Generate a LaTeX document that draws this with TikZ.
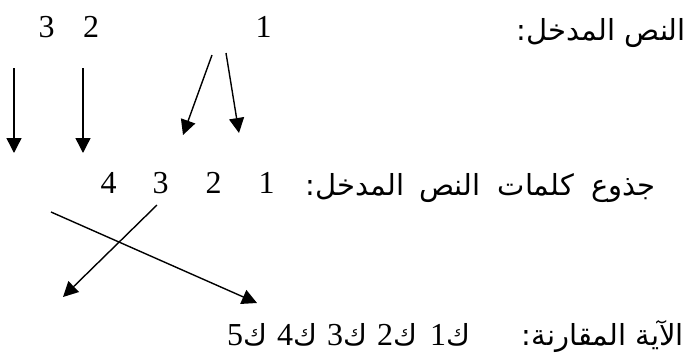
\documentclass[tikz,border=0pt]{standalone}
\usepackage{fontspec}
\setmainfont{Liberation Serif}
\newfontfamily\arabicfont[Script=Arabic]{DejaVu Sans}
\TeXXeTstate=1
\usetikzlibrary{arrows.meta}
\begin{document}
\begin{tikzpicture}[x=1pt,y=-1pt,
  num/.style={font=\fontsize{32}{32}\selectfont, inner sep=0pt, anchor=base},
  lbl/.style={font=\arabicfont\fontsize{29}{32}\selectfont, inner sep=0pt, anchor=base east},
  arr/.style={line width=1.4pt, -{Triangle[length=15pt,width=15pt]}}]
\useasboundingbox (0,0) rectangle (690,359);
% top row
\node[num] (t3) at (46.5,37) {3};
\node[num] (t2) at (91,37) {2};
\node[num] (t1) at (263.5,37) {1};
\node[lbl] (tl) at (686,40) {\beginR النص المدخل{}:\endR};
% middle row
\node[num] (m4) at (108.5,193) {4};
\node[num] (m3) at (160.5,193) {3};
\node[num] (m2) at (213.5,193) {2};
\node[num] (m1) at (266.5,193) {1};
\node[lbl] (ml) at (656,195) {\beginR جذوع\hspace{8pt} كلمات\hspace{8pt} النص\hspace{6pt} المدخل{}:\endR};
% bottom row
\node[num, anchor=base west] (k5) at (227,345) {5{\arabicfont\fontsize{29}{32}\selectfont ك}};
\node[num, anchor=base west] (k4) at (277,345) {4{\arabicfont\fontsize{29}{32}\selectfont ك}};
\node[num, anchor=base west] (k3) at (327,345) {3{\arabicfont\fontsize{29}{32}\selectfont ك}};
\node[num, anchor=base west] (k2) at (377,345) {2{\arabicfont\fontsize{29}{32}\selectfont ك}};
\node[num, anchor=base west] (k1) at (430,345) {1{\arabicfont\fontsize{29}{32}\selectfont ك}};
\node[lbl] (bl) at (684,345) {\beginR الآية المقارنة{}:\endR};
% arrow end points
\coordinate (a1s) at (14,68);  \coordinate (a1e) at (14,153);
\coordinate (a2s) at (83,68);  \coordinate (a2e) at (83,153);
\coordinate (a3s) at (212,55); \coordinate (a3e) at (183,135);
\coordinate (a4s) at (226,53); \coordinate (a4e) at (239,133);
\coordinate (a5s) at (51,212); \coordinate (a5e) at (257,303);
\coordinate (a6s) at (157,205); \coordinate (a6e) at (63,297);
\draw[arr] (a1s) -- (a1e);
\draw[arr] (a2s) -- (a2e);
\draw[arr] (a3s) -- (a3e);
\draw[arr] (a4s) -- (a4e);
\draw[arr] (a5s) -- (a5e);
\draw[arr] (a6s) -- (a6e);
\end{tikzpicture}
\end{document}
